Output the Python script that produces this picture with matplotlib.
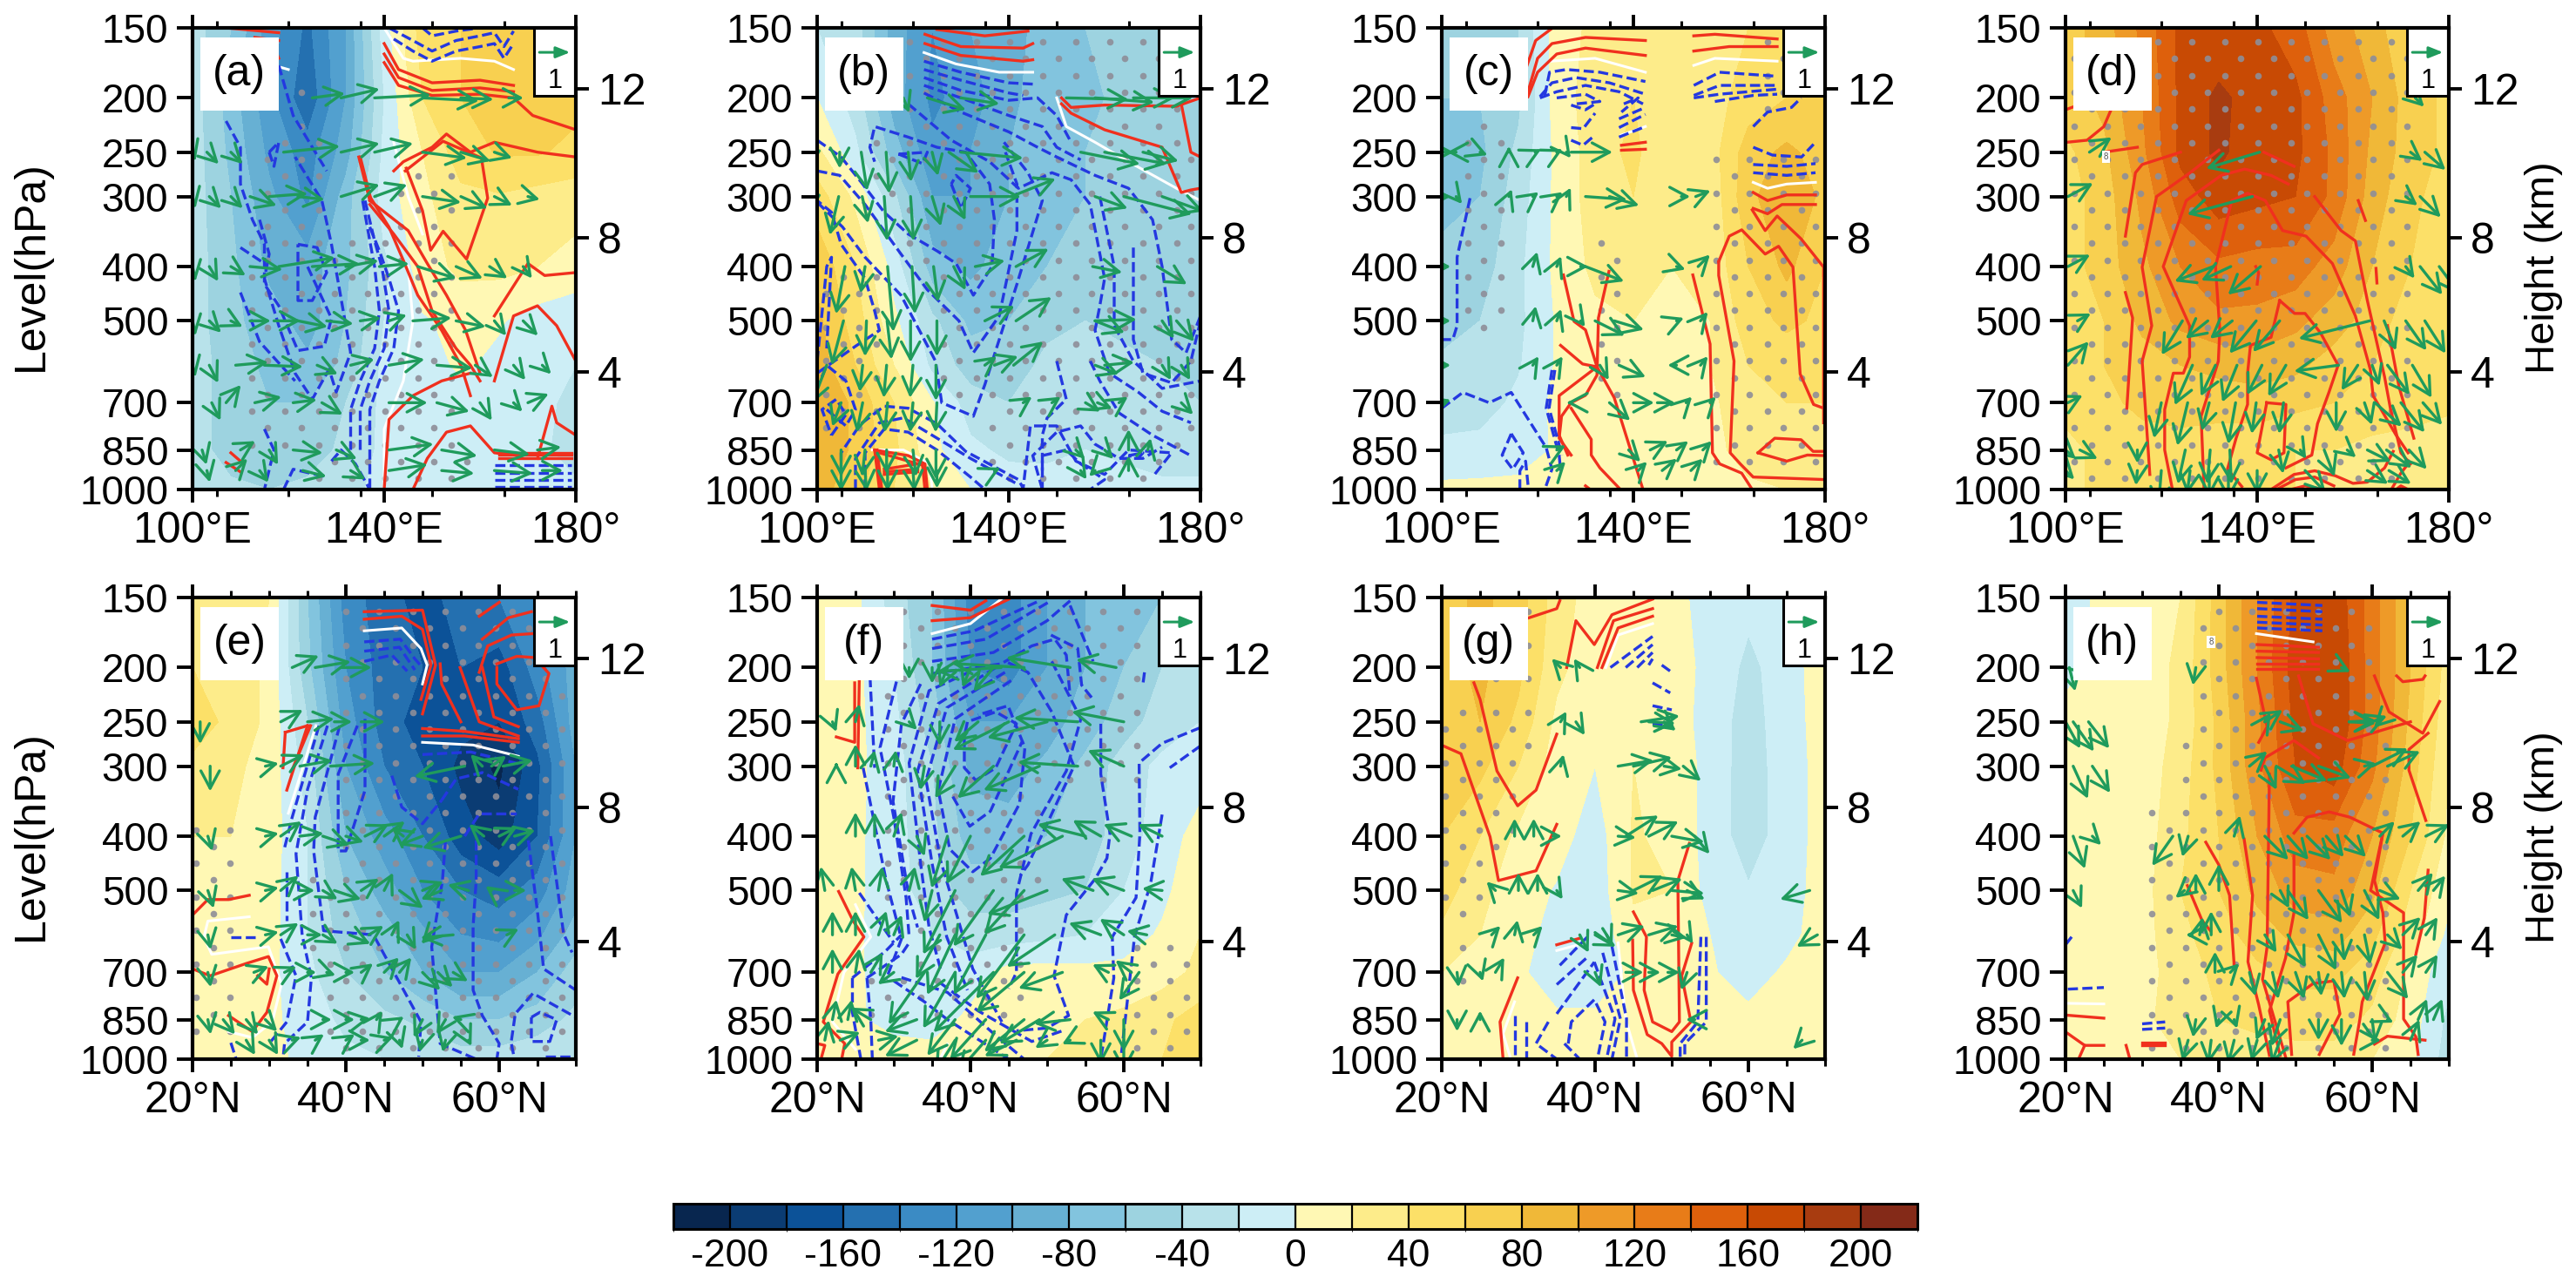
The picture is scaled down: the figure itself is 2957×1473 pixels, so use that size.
import numpy as np
import matplotlib
matplotlib.use('Agg')
import matplotlib.pyplot as plt
from matplotlib.colors import ListedColormap, BoundaryNorm
from matplotlib.cm import ScalarMappable
from matplotlib.patches import Rectangle
from matplotlib.transforms import offset_copy

plt.rcParams['font.family'] = ['Liberation Sans', 'DejaVu Sans']
plt.rcParams['axes.unicode_minus'] = False

# ---------------- scales ----------------
levels = [150, 200, 250, 300, 400, 500, 600, 700, 850, 1000]
level_ticks = [150, 200, 250, 300, 400, 500, 700, 850, 1000]
lon_grid = [100, 108, 116, 124, 132, 140, 148, 156, 164, 172, 180]
lat_grid = [20, 25, 30, 35, 40, 45, 50, 55, 60, 65, 70]
height_km = ['12', '8', '4']
height_hpa = [193, 356, 617]
cbar_bounds = list(range(-220, 221, 20))
cbar_ticks = list(range(-200, 201, 40))
cbar_colors = ['#08264f', '#0b3c73', '#0c5298', '#2470b0', '#3b8bc4', '#52a0cf',
               '#67b0d3', '#82c4de', '#9dd3e0', '#b8e2ea', '#cdeef6',
               '#fff8b4', '#fdec8a', '#fce068', '#f8d050', '#f0b838',
               '#ee9a28', '#e87c18', '#de600c', '#c84a04', '#a83c10', '#842a18']

# stipple grid
dot_levels = [158.9, 170.2, 182.4, 195.4, 209.4, 224.4, 240.4, 257.6, 276, 295.7, 316.8, 339.4, 363.7, 389.6,
              417.5, 447.3, 479.2, 513.5, 550.2, 589.5, 631.6, 676.7, 725, 776.8, 832.3, 891.7, 955.4]
dot_lon_even = [105.5, 112.4, 119.3, 126.3, 133.2, 140.1, 147, 154, 161, 168, 175]
dot_lon_odd = [101.9, 108.8, 115.7, 122.7, 129.6, 136.5, 143.5, 150.4, 157.3, 164.2, 171.2, 178]
dot_lat_even = [22.7, 27, 31.3, 35.7, 40, 44.3, 48.7, 53, 57.3, 61.7, 66]
dot_lat_odd = [20.5, 24.9, 29.2, 33.5, 37.9, 42.2, 46.5, 50.9, 55.2, 59.5, 63.9, 68.2]

# ---------------- shaded fields ----------------
field_a = [[-30, -60, -110, -145, -100, -10, 50, 60, 62, 60, 60],
           [-30, -70, -115, -155, -100, -20, 40, 60, 70, 65, 65],
           [-30, -65, -105, -130, -90, -15, 20, 50, 62, 62, 55],
           [-30, -60, -95, -125, -70, -10, 15, 35, 38, 32, 28],
           [-30, -55, -85, -90, -65, -25, 10, 25, 25, 20, 12],
           [-30, -55, -70, -90, -60, -20, -2, 5, 2, -10, -15],
           [-30, -50, -65, -75, -55, -15, -8, 3, -5, -15, -20],
           [-30, -50, -60, -60, -40, -15, -10, -8, -10, -15, -25],
           [-30, -50, -50, -50, -35, -15, -10, -8, -8, -15, -30],
           [-25, -35, -40, -35, -30, -10, -8, -6, -8, -12, -15]]
field_b = [[-20, -30, -90, -120, -100, -90, -70, -60, -55, -50, -40],
           [0, -30, -90, -125, -110, -85, -70, -65, -55, -50, -45],
           [25, -15, -70, -115, -100, -80, -70, -60, -55, -50, -50],
           [50, 15, -35, -100, -100, -80, -70, -60, -55, -50, -50],
           [75, 40, -8, -70, -85, -70, -60, -45, -50, -50, -50],
           [85, 50, 5, -35, -65, -60, -45, -40, -45, -50, -50],
           [90, 60, 20, -25, -50, -50, -35, -35, -35, -40, -55],
           [100, 75, 40, 2, -30, -40, -30, -30, -30, -35, -40],
           [100, 75, 45, 5, -15, -25, -25, -20, -25, -30, -30],
           [90, 65, 40, 20, 0, -8, -10, -8, -10, -15, -15]]
field_c = [[-50, -50, -40, 10, 25, 30, 25, 20, 40, 50, 55],
           [-60, -60, -45, 10, 30, 40, 25, 30, 50, 60, 60],
           [-65, -65, -35, 5, 30, 45, 20, 30, 70, 85, 70],
           [-65, -60, -30, 5, 30, 40, 20, 25, 75, 95, 75],
           [-55, -50, -25, 5, 25, 35, 20, 25, 60, 85, 60],
           [-50, -40, -25, 2, 15, 20, 20, 20, 50, 65, 55],
           [-35, -30, -22, 2, 15, 15, 20, 20, 40, 45, 50],
           [-30, -30, -15, 5, 20, 15, 8, 15, 35, 40, 40],
           [-15, -12, -8, 2, 20, 10, 5, 12, 30, 30, 25],
           [5, 5, 5, 5, 8, 8, 5, 8, 15, 20, 20]]
field_d = [[70, 90, 125, 165, 165, 165, 150, 110, 90, 60, 60],
           [70, 85, 120, 165, 185, 170, 165, 130, 100, 70, 55],
           [55, 75, 115, 165, 185, 165, 165, 135, 95, 70, 55],
           [50, 70, 105, 150, 170, 165, 160, 135, 90, 65, 50],
           [50, 70, 95, 120, 135, 130, 130, 110, 80, 60, 45],
           [50, 60, 85, 105, 115, 115, 105, 90, 70, 50, 45],
           [50, 60, 70, 80, 85, 90, 85, 70, 60, 50, 45],
           [45, 55, 65, 70, 70, 70, 65, 60, 50, 50, 45],
           [35, 45, 50, 50, 45, 45, 40, 40, 35, 30, 25],
           [35, 45, 50, 45, 45, 45, 40, 35, 35, 30, 30]]
field_e = [[40, 35, 20, -60, -130, -150, -170, -150, -140, -120, -70],
           [40, 35, 15, -55, -120, -150, -160, -160, -170, -130, -90],
           [50, 35, 15, -40, -110, -150, -170, -175, -180, -150, -90],
           [35, 25, 12, -30, -100, -140, -160, -185, -205, -165, -100],
           [20, 20, 10, -20, -80, -110, -140, -170, -190, -160, -100],
           [18, 18, 8, -20, -60, -90, -120, -140, -150, -130, -90],
           [12, 15, 8, -20, -50, -70, -95, -120, -125, -105, -70],
           [12, 15, 5, -15, -40, -60, -80, -100, -100, -80, -50],
           [15, 15, 5, -10, -25, -35, -45, -60, -60, -50, -35],
           [15, 12, 5, -5, -15, -20, -25, -30, -30, -25, -20]]
field_f = [[8, 5, -30, -60, -130, -130, -100, -80, -70, -60, -40],
           [8, 5, -20, -60, -120, -130, -100, -80, -60, -40, -30],
           [8, 5, -15, -50, -100, -100, -90, -70, -50, -30, -20],
           [8, 5, -12, -40, -85, -90, -75, -55, -30, -15, -8],
           [8, 4, -12, -35, -70, -70, -60, -50, -30, -10, 8],
           [8, 4, -12, -30, -50, -50, -45, -40, -20, -5, 15],
           [8, 3, -12, -20, -30, -30, -25, -20, -10, 3, 20],
           [6, 3, -10, -15, -10, 8, 8, 6, 6, 12, 25],
           [6, 2, -5, -10, 5, 10, 12, 20, 25, 35, 50],
           [6, 4, 8, 10, 10, 15, 20, 25, 30, 40, 50]]
field_g = [[70, 85, 70, 30, 10, 8, 8, -10, -15, -5, 15],
           [70, 85, 65, 25, 8, 8, 8, -5, -25, -10, 12],
           [75, 80, 55, 15, 5, 15, 12, -10, -28, -10, 10],
           [70, 65, 40, 10, 0, 20, 15, -8, -30, -10, 8],
           [60, 40, 15, 8, -10, 22, 15, -8, -30, -10, 8],
           [50, 25, 10, -2, -12, 22, 20, -8, -18, -8, 8],
           [35, 20, 8, -8, -15, 15, 10, 0, -12, -5, 8],
           [20, 10, 5, -15, -15, 5, 5, 2, -8, 3, 10],
           [10, 8, 5, 5, 5, 5, 5, 5, 5, 5, 10],
           [15, 10, 8, 5, 5, 5, 5, 5, 5, 5, 15]]
field_h = [[-10, 5, 8, 20, 70, 120, 165, 175, 130, 80, 20],
           [-5, 6, 8, 25, 70, 120, 170, 180, 130, 80, 30],
           [6, 6, 8, 25, 65, 115, 165, 180, 130, 75, 25],
           [6, 6, 8, 30, 65, 115, 160, 170, 125, 70, 20],
           [6, 6, 10, 35, 60, 100, 130, 130, 100, 60, 15],
           [6, 6, 12, 40, 60, 85, 110, 115, 85, 40, 5],
           [6, 6, 12, 35, 50, 70, 85, 90, 65, 30, -5],
           [6, 6, 12, 30, 45, 55, 65, 65, 50, 15, -15],
           [8, 8, 15, 30, 40, 45, 50, 50, 35, 10, -25],
           [8, 8, 12, 20, 30, 30, 30, 30, 20, 5, -30]]

# ---------------- significance areas (top, bottom, left, right) ----------------
dots_a = [(190, 240, 122, 126), (240, 340, 113, 128), (270, 340, 141, 155), (340, 520, 109, 157), (520, 850, 109, 156), (850, 1000, 125, 160)]
dots_b = [(155, 225, 117, 175), (225, 300, 112, 180), (300, 400, 119, 180), (400, 500, 123, 180), (500, 700, 125, 180), (700, 850, 135, 180),
          (850, 980, 135, 172), (390, 800, 101, 113)]
dots_c = [(220, 550, 102, 115), (360, 690, 132, 137.5), (255, 950, 157, 180), (150, 215, 165, 172)]
dots_d = [(150, 960, 100, 174)]
dots_e = [(150, 300, 39, 70), (300, 450, 38, 70), (450, 700, 34.5, 70), (700, 960, 37, 70), (370, 950, 20, 25.5)]
dots_f = [(155, 320, 29, 62), (320, 540, 29, 50), (540, 720, 33, 47), (720, 860, 27, 47), (630, 1000, 61, 69)]
dots_g = [(150, 210, 24, 33), (225, 300, 20, 32), (300, 440, 20, 30), (440, 560, 20, 25), (560, 780, 21, 23)]
dots_h = [(155, 250, 37, 61.5), (250, 350, 34.5, 62), (350, 960, 30.5, 62)]

# ---------------- contour lines (x, hPa) ----------------
red_a = [[(140, 160), (143, 178), (150, 188), (160, 186), (167, 190)],
         [(140, 167), (143, 184), (150, 194), (160, 192), (167, 195)],
         [(140, 173), (143, 190), (150, 198), (160, 197), (167, 200)],
         [(167, 200), (171, 215), (180, 228)],
         [(142, 270), (144, 260), (150, 245), (153, 232), (158, 250), (163, 240), (172, 250), (180, 255)],
         [(144.4, 270), (152.3, 239), (160.3, 256), (161.6, 302), (157.2, 388), (152.3, 346), (149.7, 374), (148, 318), (144.6, 267)],
         [(134.7, 255), (137, 305)], [(135, 255), (137.3, 305)],
         [(137, 310), (142, 350), (147, 400), (150, 480), (155, 560), (158, 600), (160, 640)],
         [(137, 305), (145, 345), (149, 395), (153, 450), (157, 520), (160, 620)],
         [(137, 300), (141, 340), (144, 390), (147, 450), (152, 520), (156, 600), (158, 680)],
         [(140, 1000), (141, 750), (146, 680), (152, 640), (158, 620)],
         [(163, 490), (170, 395), (173.5, 415), (180, 410)],
         [(163, 640), (167, 490), (172, 470), (176, 510), (180, 590)],
         [(146, 1000), (149, 880), (153, 790), (158, 770), (163, 860), (168, 870)],
         [(172, 880), (175, 710), (176, 760), (180, 800)],
         [(164, 860), (179, 860)], [(164, 868), (179, 868)], [(164, 878), (179, 878)],
         [(108, 860), (110, 890)], [(107, 895), (110, 930)],
         [(107, 150), (118, 153)], [(113, 156), (118, 158)], [(117, 162), (118, 170)]]
blue_a = [[(107, 220), (110, 245), (110, 285), (112.5, 330), (115, 365), (115, 430), (118, 470), (122, 565), (127.5, 555), (129, 495), (124, 400)],
          [(122, 365), (126, 370), (128, 410), (125, 460), (122, 460), (122, 410), (122, 365)],
          [(118, 175), (121, 215), (125, 245), (128, 270)],
          [(116, 250), (118, 240), (117, 265), (116, 250)],
          [(114, 330), (116, 380), (115, 420), (118, 510), (121.4, 620), (125, 690), (128.5, 610), (130, 670), (133, 570), (129, 365), (127, 305), (121.4, 255)],
          [(110, 370), (115, 395)],
          [(110, 445), (114, 545), (121.4, 640)],
          [(135.5, 305), (137, 360), (138, 400), (139, 480), (138, 560), (135, 640), (133, 720), (133, 850)],
          [(136, 305), (138, 360), (139.5, 400), (141, 480), (140, 560), (137, 640), (135, 720), (135, 850)],
          [(137, 340), (139, 375), (141, 420), (143, 480), (142, 560), (139, 640), (137, 720), (137, 1000)],
          [(115, 780), (117, 850), (115, 1000)], [(119, 1000), (121, 920), (128, 950)],
          [(129, 890), (131, 850), (134, 900), (137, 1000)],
          [(141, 150), (146, 158), (150, 165), (155, 158), (160, 155), (163, 153), (165, 162), (167, 152)],
          [(142, 157), (146, 165), (150, 172), (155, 165), (160, 162), (163, 160), (165, 170), (167, 160)],
          [(148, 150), (150, 155), (155, 152), (160, 150)],
          [(163, 905), (179, 905)], [(163, 935), (179, 935)], [(163, 960), (179, 960)], [(163, 990), (179, 990)]]
white_a = [[(140, 150), (144, 170), (146, 172), (156, 170), (163, 172), (167, 178)],
           [(142, 240), (145, 300), (148, 350)], [(145, 400), (146, 500), (144, 640), (140, 780), (140, 1000)],
           [(117, 175), (120, 178)]]

red_b = [[(125, 151), (135, 155), (144, 152)],
         [(122.5, 154), (130, 162), (143, 163), (145, 160)],
         [(122.5, 160), (130, 168), (143, 172), (145, 171)],
         [(151, 200), (153, 208), (160, 206), (175, 207), (180, 200)],
         [(151, 205), (153, 213), (160, 228), (172, 245), (176, 295), (178, 292), (180, 290)],
         [(176, 205), (178, 250), (180, 255)],
         [(112, 850), (112.5, 920), (113, 1000)], [(112.5, 850), (113.5, 1000)],
         [(112, 850), (119, 870), (122.5, 900), (123, 1000)], [(113, 860), (122, 905), (122.5, 1000)],
         [(114, 920), (121, 900)], [(114, 930), (121, 920)], [(114, 940), (121, 930)]]
white_b = [[(122.3, 166), (129, 174), (138, 180), (145, 180)],
           [(150, 200), (152, 225), (158, 240), (165, 260), (175, 290), (180, 305)],
           [(111.5, 850), (118, 850), (123.5, 900), (124, 1000)]]
blue_b = [[(122.3, 172), (130, 180), (140, 188), (145, 189)],
          [(122.3, 178), (130, 186), (140, 196), (143, 198)],
          [(122.3, 184), (130, 194), (140, 202), (146, 200), (150, 215), (153, 240)],
          [(122.3, 190), (130, 200), (140, 215), (147, 225), (150, 245), (155, 258)],
          [(122.3, 196), (130, 212), (140, 230), (146, 245), (150, 255), (158, 275), (165, 290), (170, 330), (172, 400), (174, 540), (177, 570), (180, 490)],
          [(119, 205), (128, 238), (136, 260), (142, 290), (149, 272), (153, 280), (157, 310), (160, 420), (159, 470), (158, 520), (161, 620), (167, 670), (172, 725), (178, 760)],
          [(100, 238), (105, 255), (109.5, 285), (114, 320), (119, 350), (125, 375), (129, 395), (132.6, 450), (136.5, 400), (137, 330), (136, 285), (131, 250), (125, 245), (119, 235), (112, 225), (111, 245), (112, 260)],
          [(100, 270), (104.7, 275), (110, 310), (117.5, 380), (123, 440), (129.6, 500), (132.6, 570), (138, 490), (141.7, 345), (141.7, 285), (139.3, 250)],
          [(100, 307), (105.3, 340), (110, 385), (117.5, 450), (124.7, 590), (126, 700), (132.6, 740), (135, 650), (141.7, 430), (147, 305), (144, 272), (139, 240)],
          [(128, 285), (130, 315), (132, 290), (129, 275), (128, 285)],
          [(117, 252), (122, 262), (123, 250), (117, 252)],
          [(100, 590), (102, 400), (103, 385), (102, 560)],
          [(100, 620), (108, 555), (113, 520), (112, 480), (110, 420), (105, 365), (103, 320), (100, 305)],
          [(103, 800), (106, 735), (104, 690), (101, 720), (103, 800)],
          [(102, 720), (106, 770), (108, 720), (106, 640), (102, 600), (100, 660)],
          [(105, 1000), (105, 860), (109, 765), (114, 710), (119, 716), (125, 763), (131, 855), (142, 960), (143, 995), (144.5, 770), (150, 770), (154, 890), (160, 940), (165, 850), (174, 860), (170, 950)],
          [(108, 1000), (108, 880), (113, 760), (118, 745), (124, 800), (132, 880), (142, 980)],
          [(110, 1000), (110, 860), (114, 780), (119, 790), (125, 850), (132, 950), (135, 1000)],
          [(147, 925), (147, 870), (152, 850), (155, 900), (160, 960), (157, 1000)],
          [(147, 1000), (145, 870), (150, 790), (155, 770), (158, 830), (163, 880), (168, 880), (172, 840)],
          [(150, 590), (152, 690), (148, 745), (147, 800), (147, 1000)],
          [(157, 590), (159, 640), (163, 730), (170, 800), (178, 870)],
          [(166, 370), (166, 540), (168, 620), (174, 645), (178, 590), (180, 500)],
          [(159, 300), (162, 400), (162, 510), (166, 590), (172, 660), (180, 640)],
          [(165, 870), (168, 860), (167, 880), (165, 870)]]

red_c = [[(117.8, 175), (119.6, 158), (122.7, 151)],
         [(118, 195), (120, 170), (123, 160), (130, 156), (142.5, 158)],
         [(118, 199), (120, 180), (124, 167), (130, 163), (142.5, 168)],
         [(137.5, 243), (142.5, 240)], [(137.5, 248), (142.5, 247)],
         [(152.6, 155), (157, 154), (170, 157)], [(152.6, 165), (160, 162), (170, 162)],
         [(165, 295), (168, 305), (172, 298), (178, 298)], [(165, 315), (168, 322), (171, 310), (178, 310)],
         [(164.8, 317), (167.5, 345), (170, 325), (175, 357), (179.7, 401), (179.7, 760)],
         [(157.8, 392), (160, 353), (162.6, 344), (167.5, 380), (170.3, 368), (173.3, 401), (174.8, 622), (177.6, 705), (179.7, 716)],
         [(157.8, 392), (157.8, 415), (161, 590), (160.2, 860), (162.3, 900), (165, 950), (180, 960)],
         [(152.4, 414), (156, 550), (156.5, 860), (158, 900), (162.6, 935), (164.8, 1000)],
         [(166, 860), (169.5, 810), (175, 815), (177.5, 855), (180, 855)],
         [(180, 870), (176.3, 868), (172, 890), (166, 860)],
         [(125.4, 414), (127.6, 501), (130, 519), (132.4, 604), (136, 686), (142, 1000)],
         [(134.9, 408), (132.7, 494), (132.4, 625), (130, 679), (127, 700), (125, 740), (124.5, 810), (127, 868)],
         [(124.8, 553), (129.4, 597), (132.4, 604)],
         [(132.4, 604), (124.5, 680), (124.5, 800), (126.3, 868)],
         [(127, 716), (131.2, 814), (131.2, 868), (133, 915), (137.3, 1000)],
         [(130, 985), (131, 1000)]]
white_c = [[(122.7, 172), (132, 170), (142.5, 180)], [(137.5, 233), (142.5, 225)],
           [(152.6, 175), (157, 170), (170, 172)], [(165, 283), (168, 290), (172, 285), (178, 283)]]
blue_c = [[(121.5, 198), (122.5, 180), (126, 178), (133, 180), (142.5, 187)],
          [(120.5, 199), (123, 188), (128, 184), (135, 188), (142.5, 197)],
          [(120.5, 200), (124, 195), (130, 190), (137, 195), (142, 205)],
          [(124, 200), (130, 197), (133, 203), (128, 205)],
          [(127, 206), (130, 210), (132, 205)],
          [(127, 226), (129.5, 227), (132, 213)], [(127, 238), (129.5, 243), (132, 233)],
          [(137, 218), (142.5, 208)], [(137, 226), (142.5, 214)], [(137, 235), (142.5, 225)],
          [(138, 205), (141, 200), (137.5, 212)],
          [(152.6, 190), (158, 180), (170, 183)], [(152.6, 198), (158, 190), (170, 190)],
          [(152.6, 200), (158, 197), (170, 193)], [(157, 203), (165, 198), (170, 197)],
          [(165, 225), (168, 212), (173, 208), (175, 200)],
          [(165, 245), (169, 253), (175.1, 255), (177.6, 242)],
          [(165, 263), (172, 265), (178, 262)], [(165, 272), (172, 275), (178, 272)],
          [(105.9, 302), (103.2, 385), (103.2, 510), (102.3, 540), (100, 540)],
          [(100, 716), (104.4, 671), (109.9, 700), (114.5, 671), (121.8, 842), (123, 920), (121.5, 1000)],
          [(114.5, 795), (117, 860), (114.8, 920), (112.6, 868), (114.5, 795)],
          [(123, 612), (121.8, 716), (124.5, 868), (124.8, 926)],
          [(123.6, 612), (122.4, 716), (125.1, 868)],
          [(116.3, 1000), (116.3, 926), (117.5, 890), (118.1, 1000)]]

red_d = [[(100, 210), (102, 207)], [(100.3, 240), (104.5, 238), (108, 225), (109.4, 211)],
         [(108, 250), (115, 245)], [(112.5, 353), (114.6, 272), (116, 263), (124, 250)],
         [(117.6, 940), (116, 590), (118, 510), (116, 401), (119, 300), (126, 272), (132, 248)],
         [(112.5, 445), (114, 494), (112.8, 716)],
         [(122.2, 988), (120.7, 850), (120.7, 720), (122.5, 620), (124.6, 620), (125.9, 580), (125.9, 510), (120.4, 400), (125.2, 305), (132.5, 275), (137.4, 268), (142.9, 275), (146.5, 285)],
         [(128.9, 988), (128.3, 740), (131.9, 590), (132.2, 519), (131.3, 400), (134.7, 305), (138, 296), (141.7, 305), (145.3, 345), (150.2, 353), (155.7, 395), (160.5, 490), (163.6, 610), (164.2, 680), (169, 800), (171.5, 860)],
         [(144.7, 460), (142.9, 535), (138.6, 553), (138, 620), (138, 705), (135.6, 810), (133.8, 920), (136.8, 988)],
         [(144.7, 460), (147.8, 485), (150, 485), (153.2, 525), (156.9, 600), (155, 670), (152.6, 763), (151.4, 868), (146, 915)],
         [(142, 700), (146, 705), (145.6, 860), (142.9, 885), (140, 860), (142, 700)],
         [(152, 300), (157.5, 345), (160.5, 360), (163, 460), (166.6, 630), (167.8, 716), (170, 860), (172, 900)],
         [(161.1, 305), (162.6, 331)], [(164.8, 403), (165, 428)], [(167.2, 510), (169.6, 655), (172.7, 810)],
         [(141.4, 250), (147.7, 265)],
         [(142.9, 1000), (147.7, 940), (152, 926), (156.3, 945), (160, 975), (163, 970), (166.6, 915), (168.4, 855)],
         [(144, 1000), (148, 960), (152, 950), (156, 985)], [(147, 1000), (150, 985), (154, 1000)],
         [(168, 1000), (170, 935), (171.5, 900)], [(169, 1000), (170, 985), (171.5, 1000)],
         [(139.7, 400), (140.3, 410), (140, 430)]]
blue_d = []
white_d = []

red_e = [[(42.4, 159), (50, 158), (51.7, 198), (50, 242)],
         [(42.4, 164), (47.3, 162), (50, 171), (51.1, 198), (49.8, 228)],
         [(57.4, 162), (60, 153)], [(57.8, 178), (61.2, 163), (64.2, 159)],
         [(57.4, 204), (58.5, 183), (61.6, 175), (64.4, 174)],
         [(52.3, 197), (52.5, 214), (55, 250)], [(54.9, 200), (57.4, 250), (62.5, 265)],
         [(57.8, 200), (59.3, 245), (62.5, 255)],
         [(59.7, 200), (59.7, 214), (62.3, 238), (65.2, 234), (66.5, 205), (64.6, 192), (62.3, 191), (59.7, 197)],
         [(50, 257), (55.5, 260), (62.5, 268)], [(50, 265), (55.5, 265), (62.5, 272)],
         [(20, 553), (22, 519), (24.7, 519), (27.4, 510)],
         [(20, 690), (22.3, 710), (27, 675), (29.9, 656), (31, 710), (29.7, 825), (27.8, 893), (24.7, 836)],
         [(28.5, 710), (29.7, 735), (30, 690)],
         [(32.1, 261), (31.8, 302)], [(35, 254), (32.3, 331)], [(35.4, 254), (33.1, 302)], [(32.1, 261), (35, 254)]]
white_e = [[(42.4, 172), (47.3, 170), (49.8, 185), (50.6, 198), (50, 214)],
           [(50, 272), (56.6, 275), (62.5, 288)], [(36.1, 254), (32.5, 364)],
           [(27.4, 557), (22, 567), (21.5, 605), (22.5, 650), (29.9, 630), (31.6, 735), (30.4, 858), (27.8, 915), (24.7, 893)]]
blue_e = [[(42.4, 180), (47.1, 178), (49, 193), (50, 200)], [(42.4, 187), (47, 184), (49, 202)], [(42.4, 195), (46, 190), (48, 203)],
          [(50, 286), (56.3, 283), (62.5, 297)], [(52.5, 345), (54.4, 316), (57.8, 308), (62.5, 330)],
          [(46, 312), (47.3, 355), (50, 380), (52.5, 345)], [(55.5, 400), (57.4, 365), (62.3, 365)],
          [(36.5, 254), (33, 370), (32, 420)],
          [(37.6, 254), (35, 330), (33.5, 430), (34.3, 600), (35.5, 716), (35, 858), (32, 938), (31.8, 1000)],
          [(39.2, 254), (36, 370), (35.8, 425), (37.1, 590), (43.6, 600), (49.8, 858), (49.5, 990)],
          [(41.5, 254), (39, 310), (39, 425), (40, 425), (42.5, 331), (42.5, 245)],
          [(32.3, 463), (32.3, 567)], [(31.5, 610), (33.5, 710), (32.3, 858), (30, 938)],
          [(57, 407), (57, 480), (56.6, 579), (56.6, 753), (57.8, 836), (60, 938), (59.7, 1000)],
          [(53, 407), (52.6, 480), (51.2, 630), (52.3, 938), (57, 1000)],
          [(63.8, 407), (65, 546), (65.8, 690), (70, 753)], [(66.7, 400), (68.4, 597), (69.5, 645)],
          [(61.6, 926), (62.1, 830), (64.4, 763), (70, 842)],
          [(64.2, 842), (65.3, 825), (67.5, 850), (66.6, 930), (64.2, 930), (64.2, 842)],
          [(61.6, 940), (62, 1000)], [(66, 990), (70, 990)],
          [(25, 605), (28.2, 605)], [(25, 935), (25.7, 1000)]]

red_f = [[(24.9, 213), (24.9, 272), (22.5, 266)], [(25.5, 208), (25.3, 302)],
         [(22.8, 502), (24.7, 567), (26.1, 605), (22.7, 705), (20.8, 858), (23.6, 938), (23.2, 1000)],
         [(35, 155), (40, 158), (42, 152)], [(35, 165), (40, 163), (45, 151)],
         [(20.3, 940), (21, 945), (20.5, 1000)]]
white_f = [[(35, 174), (40, 167), (44, 151)], [(25, 530), (27, 605), (23.5, 700), (22, 858), (25, 960)],
           [(36, 1000), (37, 940)], [(39, 1000), (38, 960)]]
blue_f = [[(35, 178), (40.5, 172), (49, 152)], [(35, 185), (42, 178), (50.5, 152)], [(35, 195), (43, 188), (50, 165), (53, 152)],
          [(35, 205), (44, 197), (48, 183), (51, 178), (52.5, 190), (53, 225)],
          [(30.8, 200), (28.2, 278), (30, 370), (31.6, 515), (32, 605)],
          [(33.5, 214), (31, 252), (29.9, 347), (32, 515), (33.1, 582)],
          [(41.8, 198), (34.6, 220), (32, 296), (33.5, 448), (34.6, 582), (36.1, 690)],
          [(43.3, 200), (35.8, 232), (33.1, 306), (35, 448), (36.9, 605), (39.6, 753)],
          [(44.5, 204), (36.9, 236), (34.2, 318), (36.1, 442), (40.3, 690), (44.1, 858)],
          [(45.3, 211), (38, 247), (35.8, 331), (37.3, 422), (40.3, 463), (42.6, 438), (46.4, 350), (47.1, 278), (44.9, 234), (41, 243)],
          [(39.2, 266), (39.2, 302), (40.7, 318), (43.3, 302), (46, 252), (43.3, 240), (39.6, 250), (39.2, 266)],
          [(37.7, 340), (39.9, 384), (42.6, 361), (46.8, 270)],
          [(44.9, 196), (47.5, 204), (50.6, 240), (53.5, 300), (50, 380), (47.5, 450), (46.5, 470)],
          [(50.6, 195), (54.4, 247), (52.5, 306), (47.9, 396), (46, 506), (46, 700), (45, 748)],
          [(50.5, 175), (54, 185), (54.5, 215), (56, 228)],
          [(53, 155), (56, 195)],
          [(57, 252), (57, 310), (58.2, 396), (57.8, 438), (56.3, 476), (52.5, 553), (50.9, 710), (52.8, 836), (50, 880), (46, 890)],
          [(62.7, 204), (62.5, 214)],
          [(70, 256), (65, 273), (62, 296), (62.1, 396), (61.6, 515), (58.5, 605), (58.7, 716), (57, 1000)],
          [(70, 276), (66, 302)], [(65, 366), (63.5, 486), (61.4, 605), (59.7, 975)],
          [(24.6, 716), (24.6, 825), (25.7, 1000)], [(26.5, 716), (27, 850), (27.2, 1000)],
          [(24.6, 716), (29, 640), (31, 600)], [(26.5, 716), (31, 650), (32, 620)],
          [(26, 302), (29, 480), (31, 610), (29, 720)], [(26.9, 208), (27.5, 302)],
          [(25.5, 505), (30, 620)], [(30, 725), (34, 790), (37, 850), (45, 1000)],
          [(31, 715), (37, 760), (43, 900), (47, 1000)], [(36, 730), (41, 820), (48, 930), (52, 890)]]

red_g = [[(31.4, 163), (35, 157), (35.4, 152)],
         [(36.3, 200), (37.5, 165), (39.9, 182), (42.2, 161), (47.5, 151)],
         [(40.3, 200), (42.4, 165), (47.5, 157)], [(40.9, 200), (43, 170), (47.5, 162)],
         [(24.2, 213), (25, 228), (27.2, 306), (29.9, 353), (32.3, 331), (35, 263)],
         [(20.2, 276), (22.5, 285), (26.3, 401), (27.4, 480), (32.3, 461), (35, 381)],
         [(45, 546), (46.7, 605), (46.4, 753), (47.5, 858), (50, 893), (51, 858), (50.8, 480), (52.3, 412)],
         [(44.9, 613), (45, 753), (46.8, 904), (48.7, 938), (50, 988), (50, 932), (52.5, 858), (51.3, 710), (52.6, 621)],
         [(29.9, 716), (27.6, 858), (28, 1000)], [(35, 625), (37.9, 609)]]
white_g = [[(41.4, 200), (43, 175), (47.5, 167)], [(35, 640), (37.8, 625)], [(29.5, 790), (28, 900), (29, 1000)],
           [(43, 620), (44, 850), (45.5, 1000)]]
blue_g = [[(42, 200), (47.5, 176)], [(44, 200), (47.5, 182)], [(45.5, 200), (47.5, 188)], [(47, 198), (47.5, 193)],
          [(48.7, 198), (49.8, 203)], [(47.5, 213), (49.8, 222)], [(47.5, 234), (50, 238)], [(47.5, 252), (50.2, 255)],
          [(29.5, 836), (29.5, 1000)], [(31, 858), (31, 1000)], [(33.9, 858), (32.3, 938), (35, 1000)],
          [(35, 830), (39.9, 671)], [(35.4, 680), (39, 605)], [(35, 736), (39.2, 654)],
          [(36.5, 938), (36.9, 858), (39.9, 783), (41.3, 858), (40.3, 1000)], [(36, 938), (38, 1000)],
          [(42.2, 629), (44.1, 847), (44.1, 1000)], [(41, 646), (43.3, 847), (42.2, 1000)], [(39.9, 671), (42.6, 847), (41.5, 1000)],
          [(54.5, 605), (54.5, 858), (51.7, 938), (51.7, 1000)], [(53.8, 605), (53.4, 858), (51.1, 938), (51.1, 1000)]]

red_h = [[(45, 182), (53, 184)], [(45, 187), (53, 188)], [(45, 192), (53, 193)], [(45, 197), (53, 197)], [(45, 201), (53, 201)],
         [(44.9, 209), (46.3, 255), (45.2, 272)],
         [(50.4, 207), (52.3, 252), (56.8, 270), (62.4, 256), (65, 250)],
         [(45.5, 305), (46, 290), (49.8, 270), (53, 290)],
         [(38.3, 410), (40, 450), (41.4, 510), (42, 680)], [(35.9, 490), (37.8, 565), (38.9, 590)],
         [(43.3, 405), (44.4, 510), (43.8, 670), (45.2, 800), (46.6, 985)],
         [(46.6, 310), (46.3, 630), (45.7, 720), (48.7, 990)],
         [(49.8, 430), (49.8, 548), (48.7, 660), (46.6, 820), (48, 985)],
         [(49.8, 395), (51.5, 370), (54.4, 362), (57.1, 370), (61.4, 395), (60.3, 480), (61.4, 548), (61.7, 620), (58.7, 790), (58.4, 848), (57.6, 980)],
         [(61.4, 395), (59.8, 500), (64.1, 548), (64.1, 848), (65.7, 912), (66, 981)],
         [(67, 375), (64.8, 305), (64.8, 280), (67.3, 262)], [(67.3, 460), (66.8, 560), (65.7, 650)],
         [(60.3, 207), (62.2, 240), (66.6, 262), (68.8, 230)], [(63.2, 207), (64, 212), (66.6, 210), (66.9, 207)],
         [(52.3, 733), (49, 790), (49.5, 981)], [(52.3, 733), (55, 725), (55.8, 830), (53.1, 981)],
         [(60.3, 940), (62, 910), (66.9, 925)],
         [(20.3, 835), (25, 845)], [(20.3, 900), (22.5, 945), (25, 945)], [(22.5, 945), (21.7, 1000)], [(27.9, 945), (28.4, 1000)],
         [(30, 935), (33, 935)], [(30, 945), (33, 945)]]
white_h = [[(44.9, 174), (52.3, 180)], [(20.3, 795), (25, 797)]]
blue_h = [[(45, 153), (53.5, 155)], [(45, 157), (53.5, 159)], [(45, 162), (53.5, 164)], [(45, 166), (53.5, 168)], [(45, 170), (53.5, 172)],
          [(20.3, 750), (25, 745)], [(30, 865), (33, 858)], [(30, 885), (33, 880)], [(20, 625), (20.8, 605)]]

# ---------------- wind rows: level -> (x, u, v) ----------------
wind_a = {200: [(125, 1.1, .15), (131, 1.3, .3), (138, 1.9, .1), (148, 1.9, -.1), (156, 1.1, -.05), (166, .5, 0)],
          250: [(100, .1, -.3), (103, .4, -.4), (108, .4, -.4), (119, 1.9, .2), (131, 1.3, .3), (138, 1.3, .3), (148, 1.5, -.2), (156, 1, -.3), (163, .6, -.2)],
          300: [(100, .1, -.4), (103.5, .4, -.4), (108, .4, -.4), (112, .9, -.3), (116, 1.3, .1), (122, .9, -.1), (131, 1.3, .4), (138, 1.1, .4), (148, 1.3, -.2), (156, .9, -.4), (163, .6, -.3), (170, .4, -.1)],
          400: [(100, .1, -.5), (103.5, .3, -.5), (108, .5, -.3), (112, 1.1, -.1), (118, 1.9, .3), (125, 1.6, .1), (132, 1.1, .2), (139, 1, .1), (147, 1.3, -.4), (155, .9, -.4), (162, .6, -.4), (169, .3, -.4)],
          500: [(100, .1, -.5), (103.5, .4, -.4), (108, .4, -.2), (112, .7, 0), (117, .9, 0), (122, 1, -.2), (128, .9, -.1), (135, .7, .1), (141, .6, .2), (146, 1.3, .1), (155, 1, -.2), (163, .4, -.5), (169, .5, -.5)],
          600: [(100, .1, -.4), (103.5, .3, -.6), (109, 1.1, .1), (115, 1.3, -.05), (126, .7, -.3), (133, .8, .2), (141, 1.2, .2), (151, 1.2, -.1), (159, .6, -.4), (167, .4, -.5), (173, .3, -.3)],
          700: [(104, .3, -.6), (107, .5, .6), (113, .9, .2), (121, .8, .1), (127, .7, -.4), (141, 1.3, 0), (151, 1.1, -.3), (160, .4, -.6), (167, .3, -.3), (170, .7, .3)],
          850: [(102, .15, -.5), (110, .5, .3), (116, .3, -.5), (121, 1, -.1), (130, .7, -.3), (141, 1.5, .2), (152, 1.2, -.2), (163, 1.2, -.15), (172, .8, .1)],
          925: [(103, .1, -.4), (109, .4, .4), (114, .3, -.4), (123, .8, -.2), (133, .5, -.3), (141, 1.3, .2), (152, 1.1, -.1), (163, 1.3, -.1), (173, .7, 0)]}
wind_b = {200: [(118, .2, -.5), (123, 1.3, -.4), (130, 1.3, -.2), (152, 2.1, -.05), (158, 2, -.15), (166, 1.4, 0), (171, 1.2, 0)],
          250: [(100, .15, .1), (104.7, 0, -.55), (109.2, .2, -1.3), (114.4, .1, -1.4), (119, .1, -1), (124, .2, -.8), (127.5, 1, -.7), (130, 2.1, -.2), (155, 2, -.4), (160, 2.1, -.4), (168, 1.2, -.3)],
          300: [(100, .15, .1), (104.5, -.3, -1.3), (109.4, .2, -.9), (114, .1, -1.5), (119.5, .1, -1.5), (124, .3, -1), (128.5, .4, -.8), (132, 1.7, 0), (140.5, 1.5, .6), (158, 1.1, -.4), (164, 2.3, -.6), (172, 1.4, -.5)],
          400: [(105.8, -.3, -1.6), (110, -.15, -.9), (114.7, .2, -2.2), (119.8, .1, -1.6), (124.3, .15, -1.2), (128.5, .4, -.8), (133, 1, .2), (141.5, 1.1, .6), (157.5, 1, -.2), (171, 1, -.6)],
          500: [(105.5, -.4, -1.5), (110.3, -.05, -1.2), (114.6, .15, -1.3), (119.5, 0, -1.4), (125, 0, -1.2), (135, 1, .5), (141.5, 1.2, .8), (158, 1, -.4), (158, 1.4, .05), (172, .4, -.6), (175, .6, -.7)],
          600: [(102, -.5, -1.3), (109.5, -.1, -.9), (114.5, -.1, -1.1), (120, -.1, -1.1), (124.8, 0, -1.2), (135, .4, .3), (137, .8, .3), (141, 1, .8), (158, .8, -.3), (160, 1, .1), (172, .3, -.5), (176, .3, -.5)],
          700: [(105, -.3, -.8), (109.5, -.2, -1), (114.7, -.1, -1), (120, -.1, -1), (125, -.05, -1), (143, .3, .2), (149, .3, .2), (156, .5, -.3), (158.5, .5, -.2), (163, .3, .2), (176, .4, -.4)],
          850: [(105, 0, -.9), (110, -.1, -.9), (114.5, 0, -.8), (120, .1, -.9), (124.8, 0, -1), (154, .3, -.3), (160, .3, -.3), (165, 0, .7), (169, .1, .4)],
          925: [(105, 0, -.7), (110, .05, -.7), (114.7, 0, -.7), (120, .05, -.7), (125, 0, -.6), (137, .2, .1), (155, .2, -.3), (158, -.2, -.2), (165, 0, .5)]}
wind_c = {250: [(100, .4, 0), (103, -.3, 0), (108, .25, -.1), (114, 0, .2), (119.5, .2, .1), (124, .2, .1), (126, .15, -.2), (127, 1.4, 0)],
          300: [(100, .3, 0), (103, .2, -.25), (114, .1, .25), (119, .2, .15), (124, .2, .15), (126, .15, .3), (130, 1.4, -.1), (135, 1, -.3), (150, .3, 0), (153, .5, .2)],
          400: [(100, .3, 0), (119, .15, .5), (124, .15, .35), (129, .25, 0), (130, 1.3, -.5), (149, .3, -.1), (153.5, .4, .4)],
          500: [(100, .3, 0), (119, .1, .5), (124, .15, .4), (129, .15, -.2), (132, 1, -.5), (136, 1, -.3), (149, .25, .1), (154, .25, .3)],
          600: [(100, .3, 0), (119, .2, .3), (124, .2, .3), (133, .3, -.5), (137, .9, -.4), (149, -.3, 0), (154, .25, .3)],
          700: [(100, .3, .1), (127, -.15, 0), (135, .7, -.6), (140, .7, 0), (145, .6, 0), (151, .2, .2), (156, .2, .2)],
          850: [(139, .4, -.4), (143.5, .6, .3), (149, .4, .3), (154.5, .3, .3), (124, .3, .15)],
          925: [(141, .3, .3), (146, .5, .4), (152, .4, .4), (124, .3, .3)]}
wind_d = {250: [(105, .75, .5), (140.5, -1.8, -.55), (172, .4, -.3), (175, .7, -.6)],
          300: [(100.5, .85, .45), (139, -2.2, -.6), (171, .4, -.3), (174, .7, -.7)],
          200: [(173, .3, -.3)],
          400: [(100.5, .75, .4), (140.7, -1.1, -.95), (134.5, -1, -.47), (130.8, -1.3, -.5), (171, .3, -.4), (174, .75, -.95), (178, .7, -.95)],
          500: [(102.5, .45, .25), (124.4, -.7, -1.15), (129.7, -.75, -.6), (134.8, -.75, -.6), (139.8, -.9, -1.1), (144.7, -.9, -1.05), (163.5, -2.4, -.6), (166.5, .4, -1), (171, .7, -1), (175, .7, -1.1)],
          600: [(100.5, .7, .8), (126.5, -.6, -1.35), (131.3, -.5, -1.05), (135.8, -.5, -1.25), (141, -.5, -1), (146, -.6, -1.05), (157, -1.5, -.2), (161, -.55, -.85), (164, .25, -.7), (167.2, .75, -1), (172.4, .65, -1.1)],
          700: [(100.5, .5, .25), (120, -.25, -1.2), (125.5, -.35, -1.45), (130, -.25, -.95), (135.5, -.25, -1.4), (139.8, -.15, -1.05), (145.5, -.15, -1.05), (156.5, 0, -1), (162.4, .25, -.75), (164.6, .9, -.8), (170, .8, -1), (174.6, .65, -.75)],
          850: [(103, .6, -.3), (100, .35, -.3), (115, 0, -.45), (125, -.25, -1.15), (130.2, -.1, -1.15), (134.3, .05, -1.15), (144.5, .15, -.8), (149, .2, -.3), (154, .35, -.9), (158.8, .3, -.25), (163, .8, -.4), (167, .85, -.6), (171.7, .6, -.65)],
          925: [(100, .3, -.3), (115, -.05, -.5), (120, -.1, -1.25), (126, -.1, -.8), (130, 0, -.9), (134, 0, -1), (140, 0, -.8), (150, .7, -.75), (163, .7, -.45), (167.5, .75, -.45)]}
wind_e = {200: [(33, .9, .4), (36, 1.2, .2), (39.5, 1, 0)],
          250: [(21, 0, -.75), (31.5, .75, .4), (35, .9, .1), (38.5, .6, 0), (42, .8, 0)],
          300: [(22.3, 0, -.85), (29.5, .45, .1), (31.5, .8, .4), (34, 1.1, .2), (38, 1.5, .1), (55.5, -1.7, -.35), (57.8, -.4, .4), (59, .5, .35), (60.5, 1, .2)],
          400: [(22, .15, -.5), (29.5, .45, .1), (31.5, .7, .5), (34, .8, .1), (37, .9, -.3), (40, .6, -.2), (42.5, .8, .4), (45, .7, .5), (47.5, -.4, .3), (50, -.8, -.3), (55, -1.3, -.4), (58, -.5, .4), (60, .6, .3), (62, .7, .2)],
          500: [(22, .2, -.6), (29.5, .45, .1), (31.5, .6, .5), (34, .5, 0), (37, .5, -.3), (38.5, .9, -.3), (42, .6, .4), (45, .3, .6), (47, .8, -.6), (50, .7, .3), (52.5, -.7, -.3), (56, -.7, .2), (59, -.2, .15), (62, .4, 0)],
          600: [(22, .1, -.5), (29.5, .45, .1), (31.5, .6, .4), (35, .5, 0), (37, .5, -.3), (40.5, .7, -.3), (43, .5, .3), (46, .25, .5), (48, .3, -.5), (51, -.3, -.3), (54, -1.1, -.1), (61, .4, .2)],
          700: [(22, .1, -.5), (28, .5, .2), (32, .4, .2), (35, .3, 0), (37.5, .3, -.1), (40, .3, 0), (42, .4, .3), (45, .5, .5), (47, .4, .5), (50, .6, -.6), (52, .5, -.5), (54, .5, -.3)],
          850: [(22, .1, -.5), (24, .4, -.5), (27, .4, -.5), (29.5, .4, -.4), (37, .3, 0), (40, .3, 0), (42, .3, .05), (44, .2, .3), (47, .15, .1), (50, -.3, -.6), (53, -.3, -.5), (55, -.3, .1)],
          925: [(27, .3, -.5), (30, .3, -.5), (33, .3, .1), (36, .3, .2), (40, .3, .2), (42, .3, 0), (45, .3, .1), (47, .1, -.3), (50, -.1, -.4), (53, -.1, -.4), (56, .1, -.2)]}
wind_f = {200: [(32, 0, -.3), (35, 0, -.4), (37, -.2, -.5), (40, -.2, -.5), (43, -.5, -.6), (44, -1.6, -.1), (47, -1.8, .1), (53, -1.6, .25), (59, -1, .2)],
          250: [(22, .1, -.25), (25, .1, .45), (32, .2, -.2), (36, 0, -.6), (41, -.6, -.5), (45, -1.4, -.7), (50, -1.5, -.4), (54, -1.6, .1), (60, -1.3, .25)],
          300: [(22.5, 0, .1), (25, 0, .55), (27, .1, .4), (30, .05, .4), (34, -.1, -.6), (38, -.5, -.8), (43, -.9, -.8), (49, -1.4, -.6), (54, -1.5, .1), (60, -.9, .4)],
          400: [(25, 0, .6), (27.5, 0, .6), (30, .2, .6), (33, .2, -.5), (37, -.4, -1.3), (40, -.6, -1.2), (47, -1.1, -1), (52, -1.6, -.8), (55, -1.2, .3), (57, -.7, .4), (61, -.7, .3), (65, -.6, .3)],
          500: [(21, -.1, .6), (25, -.1, .6), (28, .1, .6), (32, .15, .6), (35, -.2, -.8), (38, -.8, -1.6), (43, -1, -1.4), (47, -1, -1.1), (50, -1.5, -.6), (56, -.8, .3), (60, -.8, .3), (65, -.5, .05)],
          600: [(22, 0, .6), (25, 0, .6), (28, .2, .6), (30, .2, .5), (36, -.6, -1.1), (38, -.7, -1.5), (42, -.8, -1.5), (47, -1.2, -1.6), (51, -1.2, -.8), (57, -.8, .3), (60, -.6, .4), (63, -.5, .1)],
          700: [(22, 0, .6), (25, .1, .6), (27, .3, .5), (30, -.4, -.3), (34, -.9, -1.3), (38, -.8, -1.4), (43, -1.5, -1.5), (47, -1.2, -1), (52, -1.1, -.4), (58, -.4, .2), (61, -.4, .3), (62, -.5, -.7)],
          850: [(22, .1, .5), (24, .1, .5), (27, -.5, .3), (33, -.8, -.3), (38, -.7, -.9), (42, -.9, -1), (47, -1, -.8), (49, -1, -.6), (53, -.9, -.1), (58, -.4, .2), (60, 0, -.8)],
          925: [(21, .1, .5), (23, .5, .2), (28, .5, .1), (33, -.8, -.4), (38, -.5, -.8), (42, -.7, -.8), (46, -.8, -.4), (50, -.3, -.2), (53, -.2, -.1), (57, 0, -.6), (60, 0, -.8)]}
wind_g = {200: [(35.5, -.3, .3), (38, -.2, .3)],
          250: [(35.5, .2, .35), (37.5, .3, -.45), (47, .9, -.05), (46, 1.3, .2), (49, .4, -.3)],
          300: [(35.5, .1, .4), (43, 1.2, .2), (45, 1.3, .3), (49, .6, -.1), (51.5, .6, -.5)],
          400: [(29.5, 0, .6), (32, 0, .6), (34.5, .3, 0), (43, .6, -.05), (44, 1.1, .7), (47, 1, .5), (50, 1.1, -.2), (53, .5, -.6)],
          500: [(27, -.3, .3), (30, 0, .6), (32.5, 0, .6), (35, .2, -.3), (43, .7, -.1), (45, 1, .5), (47.5, 1, .4), (50, 1.1, -.1), (52, .6, -.3), (68, -1, -.3)],
          600: [(26.5, .3, .3), (29.5, .1, .5), (32, .3, .3), (40, .7, -.4), (41.5, .2, -.4), (43, .9, .3), (47, 1, .3), (50, .5, -.1), (52, .2, -.3), (69, -.7, -.4), (38, .3, -.6)],
          700: [(22, .05, -.5), (25, .1, -.3), (27, .3, .5), (40, .2, -.5), (44, .6, 0), (47, .4, 0), (49.5, .4, 0), (52, -.2, -.6)],
          850: [(22, 0, -.4), (25, 0, .3), (53, -.3, 0)],
          925: [(67, -.3, -.3)]}
wind_h = {200: [(37, -.1, -.6), (20.5, .2, -.8), (22, .3, -.3), (56, .3, -.15)],
          250: [(20, .5, -.9), (21, .7, -1), (23, .7, -.9), (46, .2, .3), (46, .6, .4), (48, .8, -.3), (57, .9, -.05), (57, .9, .05), (60, .5, .2), (61, -.2, -.2)],
          300: [(21, .5, -1.1), (23.5, .6, -.9), (44, .6, .5), (46, .4, -.8), (47.5, 1, -.6), (49.5, 1.2, -.5), (53, 1.1, -.4), (59, .4, .1), (60, 1.2, .6), (62, 1.1, .5)],
          400: [(21, .4, -1.1), (23.5, .3, -.3), (34, -.7, -1), (36, -.2, -.7), (42, .2, .7), (46, .8, -.8), (49, .7, -.8), (51.5, .8, -.8), (54, .6, -.7), (56.5, .7, -.7), (61, .5, .5), (64, .6, .5), (67, .8, .4)],
          500: [(21, .3, -.6), (35.5, -.3, -.25), (37, 0, .6), (40, 0, .9), (48, .3, -.6), (49, .7, -1), (53, .8, -1.1), (56, .3, -.9), (59, .5, -1), (61, .7, -.3), (66, .5, .6), (68, .4, .5)],
          600: [(36.5, -.2, 0), (37.5, .1, .6), (39, 0, .8), (46, .4, -.6), (49, .6, -1.1), (53, .6, -1.2), (56, .1, -.9), (59, .2, -1), (62, .5, -.5), (64, .6, .6), (67, .4, .6)],
          700: [(39.5, 0, .7), (41.5, .3, .3), (44, .2, -.8), (47, .2, -.9), (50, .3, -.9), (53, .1, -.8), (56, .1, -.9), (59, .1, -1), (62, .7, -.9), (64, .5, .6), (67, .4, .6)],
          850: [(37, -.1, -.6), (40, -.1, -.3), (42, .1, -.3), (46, -.3, -.7), (48, -.3, -.9), (53, 0, -.7), (56, 0, -.9), (60, .1, -.8), (62, .2, -.1), (66, .3, .7), (68, .3, .7)],
          925: [(36, -.2, -.7), (39, -.1, -.8), (42, -.2, -.8), (45, -.2, -.7), (48, -.3, -.8), (60, .3, 0), (65, .3, .7)]}

panels = [('(a)', field_a, dots_a, red_a, blue_a, white_a, wind_a, 1.0),
          ('(b)', field_b, dots_b, red_b, blue_b, white_b, wind_b, 1.0),
          ('(c)', field_c, dots_c, red_c, blue_c, white_c, wind_c, 1.0),
          ('(d)', field_d, dots_d, red_d, blue_d, white_d, wind_d, 1.0),
          ('(e)', field_e, dots_e, red_e, blue_e, white_e, wind_e, 1.0),
          ('(f)', field_f, dots_f, red_f, blue_f, white_f, wind_f, 1.35),
          ('(g)', field_g, dots_g, red_g, blue_g, white_g, wind_g, 1.0),
          ('(h)', field_h, dots_h, red_h, blue_h, white_h, wind_h, 1.0)]

# ---------------- figure ----------------
W, H = 2957, 1473
fig = plt.figure(figsize=(W / 100, H / 100), dpi=100)
cmap = ListedColormap(cbar_colors)
norm = BoundaryNorm(cbar_bounds, cmap.N)
left_px = [221, 938, 1655, 2371]
top_px = [32, 686]
GREEN = '#1f9b5c'
ARROW_PX = 34

for i, (name, field, dots, red, blue, white, wind, wscale) in enumerate(panels):
    row, col = i // 4, i % 4
    ax = fig.add_axes([left_px[col] / W, 1 - (top_px[row] + 530) / H, 440 / W, 530 / H])
    is_lon = row == 0
    xs = lon_grid if is_lon else lat_grid
    ax.contourf(xs, levels, field, levels=cbar_bounds, cmap=cmap, norm=norm)
    ax.set_yscale('log')
    ax.set_ylim(1000, 150)
    ax.set_xlim(xs[0], xs[-1])

    # stippling
    dot_even = dot_lon_even if is_lon else dot_lat_even
    dot_odd = dot_lon_odd if is_lon else dot_lat_odd
    px, py = [], []
    for k, p in enumerate(dot_levels):
        for x in (dot_even if k % 2 == 0 else dot_odd):
            if any(t <= p <= b and l <= x <= r for t, b, l, r in dots):
                px.append(x)
                py.append(p)
    ax.scatter(px, py, s=30, color='#8e8e98', alpha=0.9, linewidths=0, zorder=3)

    # contours
    for line in white:
        ax.plot(*zip(*line), color='white', lw=2.2, zorder=4)
    for line in red:
        ax.plot(*zip(*line), color='#f0301e', lw=2.4, zorder=4)
    for line in blue:
        ax.plot(*zip(*line), color='#2438e0', lw=2.4, ls=(0, (3.5, 1.5)), zorder=4)

    # vectors
    for level, row_wind in wind.items():
        for x, u, v in row_wind:
            tr = offset_copy(ax.transData, fig=fig, x=u * ARROW_PX * wscale, y=v * ARROW_PX * wscale, units='dots')
            a = ax.annotate('', xy=(x, level), xycoords=tr, xytext=(x, level), textcoords='data',
                            arrowprops=dict(arrowstyle='->,head_length=0.6,head_width=0.32', color=GREEN, lw=2.4,
                                            mutation_scale=24, shrinkA=0, shrinkB=0), zorder=5, annotation_clip=False)
            a.arrow_patch.set_clip_path(ax.patch)

    # panel label and reference vector
    ax.add_patch(Rectangle((0.02, 0.821), 0.205, 0.159, transform=ax.transAxes, fc='white', ec='none', zorder=6))
    ax.text(0.1225, 0.9, name, transform=ax.transAxes, fontsize=36, ha='center', va='center', zorder=7)
    ax.add_patch(Rectangle((0.892, 0.852), 0.108, 0.148, transform=ax.transAxes, fc='white', ec='black', lw=2.2, zorder=6, clip_on=False))
    ax.annotate('', xy=(0.985, 0.947), xycoords='axes fraction', xytext=(0.905, 0.947), textcoords='axes fraction',
                arrowprops=dict(arrowstyle='-|>,head_length=0.4,head_width=0.16', color=GREEN, lw=2.2, mutation_scale=24,
                                shrinkA=0, shrinkB=0), zorder=7)
    ax.text(0.945, 0.885, '1', transform=ax.transAxes, fontsize=22, ha='center', va='center', zorder=7)

    # axes
    for s in ax.spines.values():
        s.set_linewidth(3)
        s.set_zorder(8)
    if is_lon:
        ax.set_xticks([100, 140, 180])
        ax.set_xticklabels(['100°E', '140°E', '180°'], fontsize=36)
        ax.set_xticks([105, 120, 135, 150, 165], minor=True)
    else:
        ax.set_xticks([20, 40, 60])
        ax.set_xticklabels(['20°N', '40°N', '60°N'], fontsize=36)
        ax.set_xticks([25, 30, 35, 45, 50, 55, 65, 70], minor=True)
    ax.tick_params(axis='x', which='major', direction='out', top=True, length=11, width=2.8, pad=7)
    ax.tick_params(axis='x', which='minor', direction='out', top=True, length=6, width=2.2)
    ax.set_yticks(level_ticks)
    ax.set_yticklabels([str(v) for v in level_ticks], fontsize=33)
    ax.yaxis.set_minor_locator(plt.NullLocator())
    ax.tick_params(axis='y', which='major', direction='out', length=13, width=2.8, pad=7)

    ax2 = ax.twinx()
    ax2.set_yscale('log')
    ax2.set_ylim(1000, 150)
    ax2.set_yticks(height_hpa)
    ax2.set_yticklabels(height_km, fontsize=36)
    ax2.yaxis.set_minor_locator(plt.NullLocator())
    ax2.tick_params(axis='y', which='major', direction='out', length=11, width=2.8, pad=7)
    for s in ax2.spines.values():
        s.set_visible(False)

    if col == 0:
        fig.text(36 / W, 1 - (top_px[row] + 273) / H, 'Level(hPa)', rotation=90, fontsize=36, ha='center', va='center')
    if col == 3:
        fig.text(2920 / W, 1 - (top_px[row] + 275) / H, 'Height (km)', rotation=90, fontsize=34, ha='center', va='center')

# contour labels
fig.axes[6].text(108.5, 255, '8', fontsize=7, color='#555555', ha='center', va='center', zorder=6,
                 bbox=dict(fc='white', ec='none', pad=1.5))
fig.axes[14].text(39, 180, '8', fontsize=7, color='#555555', ha='center', va='center', zorder=6,
                  bbox=dict(fc='white', ec='none', pad=1.5))

# ---------------- colorbar ----------------
cax = fig.add_axes([773 / W, 1 - 1411 / H, (2201 - 773) / W, 29 / H])
cb = fig.colorbar(ScalarMappable(norm=norm, cmap=cmap), cax=cax, orientation='horizontal',
                  boundaries=cbar_bounds, ticks=cbar_ticks, spacing='uniform', drawedges=True)
cb.dividers.set_color('black')
cb.dividers.set_linewidth(1.6)
cb.outline.set_linewidth(2.2)
cb.ax.tick_params(length=0, pad=8, labelsize=32)

plt.savefig('out.png', dpi=100)
